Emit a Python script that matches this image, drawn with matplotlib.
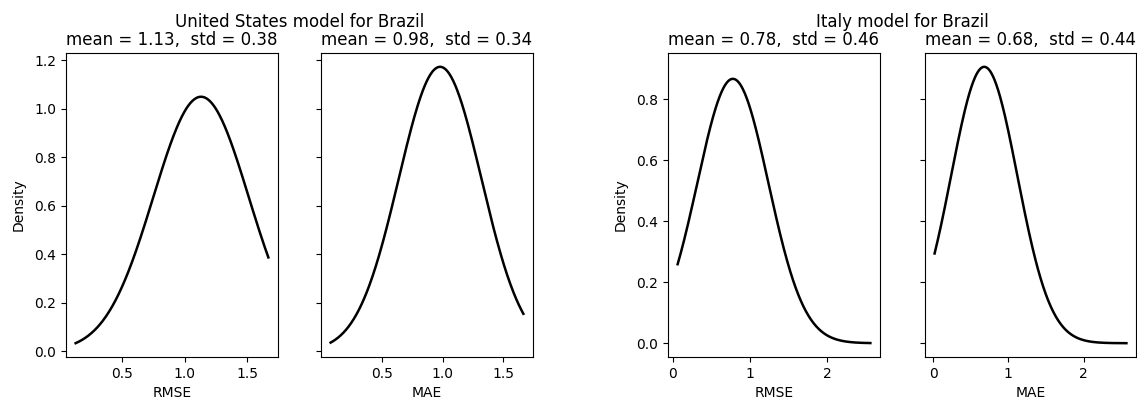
import numpy as np
import matplotlib
matplotlib.use('Agg')
import matplotlib.pyplot as plt

# datos
modelos = ['United States model for Brazil', 'Italy model for Brazil']
metricas = ['RMSE', 'MAE']
medias = [[1.13, 0.98], [0.78, 0.68]]
desvios = [[0.38, 0.34], [0.46, 0.44]]
x_min = [[0.13, 0.08], [0.065, 0.02]]
x_max = [[1.667, 1.665], [2.56, 2.57]]

def densidad(x, mu, sd):
    return np.exp(-0.5 * ((x - mu) / sd) ** 2) / (sd * np.sqrt(2 * np.pi))

plt.rcParams['font.size'] = 10
fig = plt.figure(figsize=(11.37, 3.99), dpi=100)
W, H = 1137.0, 399.0
lefts = [[66, 321], [668, 925]]
rights = [[278, 533], [880, 1136]]
top, bottom = 53, 357

for g in range(2):
    ejes = []
    for k in range(2):
        l, r = lefts[g][k], rights[g][k]
        rect = [l / W, 1 - bottom / H, (r - l) / W, (bottom - top) / H]
        if k == 0:
            ax = fig.add_axes(rect)
        else:
            ax = fig.add_axes(rect, sharey=ejes[0])
        x = np.linspace(x_min[g][k], x_max[g][k], 300)
        ax.plot(x, densidad(x, medias[g][k], desvios[g][k]), color='black', lw=1.8)
        ax.set_xlabel(metricas[k], labelpad=3.5)
        ax.set_title(f'mean = {medias[g][k]:.2f},  std = {desvios[g][k]:.2f}', fontsize=12)
        if k == 0:
            ax.set_ylabel('Density', labelpad=6)
        else:
            plt.setp(ax.get_yticklabels(), visible=False)
        ejes.append(ax)
    centro = (lefts[g][0] + rights[g][1]) / 2 / W
    fig.text(centro, 1 - 22 / H, modelos[g], ha='center', va='center', fontsize=12)

fig.savefig('out.png', dpi=100)
